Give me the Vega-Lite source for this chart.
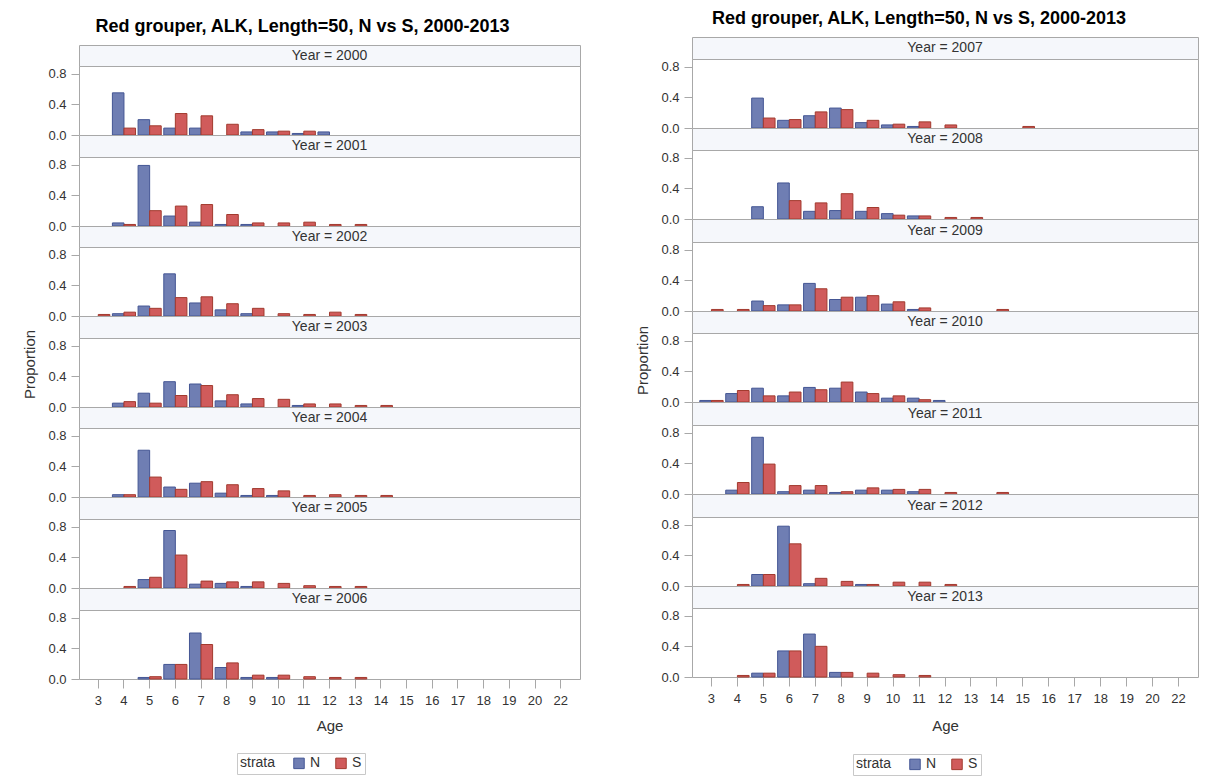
{
  "$schema": "https://vega.github.io/schema/vega-lite/v6.json",
  "background": "white",
  "padding": {"left": 22, "top": 1, "right": 0, "bottom": 0},
  "config": {
    "font": "Liberation Sans",
    "view": {"stroke": "#a8a8a8", "strokeWidth": 1},
    "axis": {"labelFont": "Liberation Sans", "labelFontSize": 13, "labelColor": "#333333", "tickColor": "#a8a8a8", "domain": false, "grid": false, "titleFont": "Liberation Sans", "titleFontSize": 15, "titleFontWeight": "normal", "titleColor": "#333333"},
    "axisY": {"tickSize": 8, "labelPadding": 5, "titlePadding": 10},
    "axisX": {"tickSize": 9, "labelPadding": 6, "titlePadding": 11, "labelAngle": 0},
    "legend": {"orient": "bottom", "direction": "horizontal", "titleOrient": "left", "strokeColor": "#c8c8c8", "padding": 3, "symbolType": "square", "symbolSize": 110, "symbolStrokeWidth": 1, "labelFontSize": 14, "titleFontSize": 14, "titleFontWeight": "normal", "titleColor": "#333333", "labelColor": "#333333", "offset": 19, "columnPadding": 12, "titlePadding": 16, "layout": {"bottom": {"anchor": "middle"}}}
  },
  "datasets": {
    "alk": [
      {"year": 2000, "age": 4, "strata": "N", "p": 0.55}, {"year": 2000, "age": 5, "strata": "N", "p": 0.20}, {"year": 2000, "age": 6, "strata": "N", "p": 0.09}, {"year": 2000, "age": 7, "strata": "N", "p": 0.09}, {"year": 2000, "age": 9, "strata": "N", "p": 0.04}, {"year": 2000, "age": 10, "strata": "N", "p": 0.04}, {"year": 2000, "age": 11, "strata": "N", "p": 0.02}, {"year": 2000, "age": 12, "strata": "N", "p": 0.04},
      {"year": 2000, "age": 4, "strata": "S", "p": 0.09}, {"year": 2000, "age": 5, "strata": "S", "p": 0.12}, {"year": 2000, "age": 6, "strata": "S", "p": 0.28}, {"year": 2000, "age": 7, "strata": "S", "p": 0.25}, {"year": 2000, "age": 8, "strata": "S", "p": 0.14}, {"year": 2000, "age": 9, "strata": "S", "p": 0.07}, {"year": 2000, "age": 10, "strata": "S", "p": 0.05}, {"year": 2000, "age": 11, "strata": "S", "p": 0.05},
      {"year": 2001, "age": 4, "strata": "N", "p": 0.04}, {"year": 2001, "age": 5, "strata": "N", "p": 0.79}, {"year": 2001, "age": 6, "strata": "N", "p": 0.13}, {"year": 2001, "age": 7, "strata": "N", "p": 0.05}, {"year": 2001, "age": 8, "strata": "N", "p": 0.02}, {"year": 2001, "age": 9, "strata": "N", "p": 0.02},
      {"year": 2001, "age": 4, "strata": "S", "p": 0.02}, {"year": 2001, "age": 5, "strata": "S", "p": 0.20}, {"year": 2001, "age": 6, "strata": "S", "p": 0.26}, {"year": 2001, "age": 7, "strata": "S", "p": 0.28}, {"year": 2001, "age": 8, "strata": "S", "p": 0.15}, {"year": 2001, "age": 9, "strata": "S", "p": 0.04}, {"year": 2001, "age": 10, "strata": "S", "p": 0.04}, {"year": 2001, "age": 11, "strata": "S", "p": 0.05}, {"year": 2001, "age": 12, "strata": "S", "p": 0.02}, {"year": 2001, "age": 13, "strata": "S", "p": 0.02},
      {"year": 2002, "age": 4, "strata": "N", "p": 0.03}, {"year": 2002, "age": 5, "strata": "N", "p": 0.13}, {"year": 2002, "age": 6, "strata": "N", "p": 0.55}, {"year": 2002, "age": 7, "strata": "N", "p": 0.17}, {"year": 2002, "age": 8, "strata": "N", "p": 0.08}, {"year": 2002, "age": 9, "strata": "N", "p": 0.03},
      {"year": 2002, "age": 3, "strata": "S", "p": 0.02}, {"year": 2002, "age": 4, "strata": "S", "p": 0.05}, {"year": 2002, "age": 5, "strata": "S", "p": 0.10}, {"year": 2002, "age": 6, "strata": "S", "p": 0.24}, {"year": 2002, "age": 7, "strata": "S", "p": 0.25}, {"year": 2002, "age": 8, "strata": "S", "p": 0.16}, {"year": 2002, "age": 9, "strata": "S", "p": 0.10}, {"year": 2002, "age": 10, "strata": "S", "p": 0.03}, {"year": 2002, "age": 11, "strata": "S", "p": 0.02}, {"year": 2002, "age": 12, "strata": "S", "p": 0.05}, {"year": 2002, "age": 13, "strata": "S", "p": 0.02},
      {"year": 2003, "age": 4, "strata": "N", "p": 0.05}, {"year": 2003, "age": 5, "strata": "N", "p": 0.18}, {"year": 2003, "age": 6, "strata": "N", "p": 0.33}, {"year": 2003, "age": 7, "strata": "N", "p": 0.30}, {"year": 2003, "age": 8, "strata": "N", "p": 0.08}, {"year": 2003, "age": 9, "strata": "N", "p": 0.04}, {"year": 2003, "age": 11, "strata": "N", "p": 0.02},
      {"year": 2003, "age": 4, "strata": "S", "p": 0.07}, {"year": 2003, "age": 5, "strata": "S", "p": 0.05}, {"year": 2003, "age": 6, "strata": "S", "p": 0.15}, {"year": 2003, "age": 7, "strata": "S", "p": 0.28}, {"year": 2003, "age": 8, "strata": "S", "p": 0.16}, {"year": 2003, "age": 9, "strata": "S", "p": 0.11}, {"year": 2003, "age": 10, "strata": "S", "p": 0.10}, {"year": 2003, "age": 11, "strata": "S", "p": 0.04}, {"year": 2003, "age": 12, "strata": "S", "p": 0.04}, {"year": 2003, "age": 13, "strata": "S", "p": 0.02}, {"year": 2003, "age": 14, "strata": "S", "p": 0.02},
      {"year": 2004, "age": 4, "strata": "N", "p": 0.03}, {"year": 2004, "age": 5, "strata": "N", "p": 0.61}, {"year": 2004, "age": 6, "strata": "N", "p": 0.13}, {"year": 2004, "age": 7, "strata": "N", "p": 0.18}, {"year": 2004, "age": 8, "strata": "N", "p": 0.05}, {"year": 2004, "age": 9, "strata": "N", "p": 0.02}, {"year": 2004, "age": 10, "strata": "N", "p": 0.02},
      {"year": 2004, "age": 4, "strata": "S", "p": 0.03}, {"year": 2004, "age": 5, "strata": "S", "p": 0.26}, {"year": 2004, "age": 6, "strata": "S", "p": 0.10}, {"year": 2004, "age": 7, "strata": "S", "p": 0.20}, {"year": 2004, "age": 8, "strata": "S", "p": 0.16}, {"year": 2004, "age": 9, "strata": "S", "p": 0.11}, {"year": 2004, "age": 10, "strata": "S", "p": 0.08}, {"year": 2004, "age": 11, "strata": "S", "p": 0.02}, {"year": 2004, "age": 12, "strata": "S", "p": 0.03}, {"year": 2004, "age": 13, "strata": "S", "p": 0.02}, {"year": 2004, "age": 14, "strata": "S", "p": 0.02},
      {"year": 2005, "age": 5, "strata": "N", "p": 0.11}, {"year": 2005, "age": 6, "strata": "N", "p": 0.75}, {"year": 2005, "age": 7, "strata": "N", "p": 0.05}, {"year": 2005, "age": 8, "strata": "N", "p": 0.06}, {"year": 2005, "age": 9, "strata": "N", "p": 0.02},
      {"year": 2005, "age": 4, "strata": "S", "p": 0.02}, {"year": 2005, "age": 5, "strata": "S", "p": 0.14}, {"year": 2005, "age": 6, "strata": "S", "p": 0.43}, {"year": 2005, "age": 7, "strata": "S", "p": 0.09}, {"year": 2005, "age": 8, "strata": "S", "p": 0.08}, {"year": 2005, "age": 9, "strata": "S", "p": 0.08}, {"year": 2005, "age": 10, "strata": "S", "p": 0.06}, {"year": 2005, "age": 11, "strata": "S", "p": 0.03}, {"year": 2005, "age": 12, "strata": "S", "p": 0.02}, {"year": 2005, "age": 13, "strata": "S", "p": 0.02},
      {"year": 2006, "age": 5, "strata": "N", "p": 0.02}, {"year": 2006, "age": 6, "strata": "N", "p": 0.19}, {"year": 2006, "age": 7, "strata": "N", "p": 0.60}, {"year": 2006, "age": 8, "strata": "N", "p": 0.15}, {"year": 2006, "age": 9, "strata": "N", "p": 0.02}, {"year": 2006, "age": 10, "strata": "N", "p": 0.02},
      {"year": 2006, "age": 5, "strata": "S", "p": 0.03}, {"year": 2006, "age": 6, "strata": "S", "p": 0.19}, {"year": 2006, "age": 7, "strata": "S", "p": 0.45}, {"year": 2006, "age": 8, "strata": "S", "p": 0.21}, {"year": 2006, "age": 9, "strata": "S", "p": 0.05}, {"year": 2006, "age": 10, "strata": "S", "p": 0.05}, {"year": 2006, "age": 11, "strata": "S", "p": 0.03}, {"year": 2006, "age": 12, "strata": "S", "p": 0.02}, {"year": 2006, "age": 13, "strata": "S", "p": 0.02},
      {"year": 2007, "age": 5, "strata": "N", "p": 0.39}, {"year": 2007, "age": 6, "strata": "N", "p": 0.10}, {"year": 2007, "age": 7, "strata": "N", "p": 0.16}, {"year": 2007, "age": 8, "strata": "N", "p": 0.26}, {"year": 2007, "age": 9, "strata": "N", "p": 0.07}, {"year": 2007, "age": 10, "strata": "N", "p": 0.04}, {"year": 2007, "age": 11, "strata": "N", "p": 0.02},
      {"year": 2007, "age": 5, "strata": "S", "p": 0.13}, {"year": 2007, "age": 6, "strata": "S", "p": 0.11}, {"year": 2007, "age": 7, "strata": "S", "p": 0.21}, {"year": 2007, "age": 8, "strata": "S", "p": 0.24}, {"year": 2007, "age": 9, "strata": "S", "p": 0.10}, {"year": 2007, "age": 10, "strata": "S", "p": 0.05}, {"year": 2007, "age": 11, "strata": "S", "p": 0.08}, {"year": 2007, "age": 12, "strata": "S", "p": 0.04}, {"year": 2007, "age": 15, "strata": "S", "p": 0.02},
      {"year": 2008, "age": 5, "strata": "N", "p": 0.16}, {"year": 2008, "age": 6, "strata": "N", "p": 0.47}, {"year": 2008, "age": 7, "strata": "N", "p": 0.10}, {"year": 2008, "age": 8, "strata": "N", "p": 0.11}, {"year": 2008, "age": 9, "strata": "N", "p": 0.10}, {"year": 2008, "age": 10, "strata": "N", "p": 0.07}, {"year": 2008, "age": 11, "strata": "N", "p": 0.04},
      {"year": 2008, "age": 6, "strata": "S", "p": 0.24}, {"year": 2008, "age": 7, "strata": "S", "p": 0.21}, {"year": 2008, "age": 8, "strata": "S", "p": 0.33}, {"year": 2008, "age": 9, "strata": "S", "p": 0.15}, {"year": 2008, "age": 10, "strata": "S", "p": 0.05}, {"year": 2008, "age": 11, "strata": "S", "p": 0.04}, {"year": 2008, "age": 12, "strata": "S", "p": 0.02}, {"year": 2008, "age": 13, "strata": "S", "p": 0.02},
      {"year": 2009, "age": 5, "strata": "N", "p": 0.13}, {"year": 2009, "age": 6, "strata": "N", "p": 0.08}, {"year": 2009, "age": 7, "strata": "N", "p": 0.36}, {"year": 2009, "age": 8, "strata": "N", "p": 0.15}, {"year": 2009, "age": 9, "strata": "N", "p": 0.18}, {"year": 2009, "age": 10, "strata": "N", "p": 0.09}, {"year": 2009, "age": 11, "strata": "N", "p": 0.02},
      {"year": 2009, "age": 3, "strata": "S", "p": 0.02}, {"year": 2009, "age": 4, "strata": "S", "p": 0.02}, {"year": 2009, "age": 5, "strata": "S", "p": 0.07}, {"year": 2009, "age": 6, "strata": "S", "p": 0.08}, {"year": 2009, "age": 7, "strata": "S", "p": 0.29}, {"year": 2009, "age": 8, "strata": "S", "p": 0.18}, {"year": 2009, "age": 9, "strata": "S", "p": 0.20}, {"year": 2009, "age": 10, "strata": "S", "p": 0.12}, {"year": 2009, "age": 11, "strata": "S", "p": 0.04}, {"year": 2009, "age": 14, "strata": "S", "p": 0.02},
      {"year": 2010, "age": 3, "strata": "N", "p": 0.02}, {"year": 2010, "age": 4, "strata": "N", "p": 0.11}, {"year": 2010, "age": 5, "strata": "N", "p": 0.18}, {"year": 2010, "age": 6, "strata": "N", "p": 0.08}, {"year": 2010, "age": 7, "strata": "N", "p": 0.19}, {"year": 2010, "age": 8, "strata": "N", "p": 0.18}, {"year": 2010, "age": 9, "strata": "N", "p": 0.13}, {"year": 2010, "age": 10, "strata": "N", "p": 0.05}, {"year": 2010, "age": 11, "strata": "N", "p": 0.05}, {"year": 2010, "age": 12, "strata": "N", "p": 0.02},
      {"year": 2010, "age": 3, "strata": "S", "p": 0.02}, {"year": 2010, "age": 4, "strata": "S", "p": 0.15}, {"year": 2010, "age": 5, "strata": "S", "p": 0.08}, {"year": 2010, "age": 6, "strata": "S", "p": 0.13}, {"year": 2010, "age": 7, "strata": "S", "p": 0.16}, {"year": 2010, "age": 8, "strata": "S", "p": 0.26}, {"year": 2010, "age": 9, "strata": "S", "p": 0.11}, {"year": 2010, "age": 10, "strata": "S", "p": 0.08}, {"year": 2010, "age": 11, "strata": "S", "p": 0.03},
      {"year": 2011, "age": 4, "strata": "N", "p": 0.05}, {"year": 2011, "age": 5, "strata": "N", "p": 0.74}, {"year": 2011, "age": 6, "strata": "N", "p": 0.03}, {"year": 2011, "age": 7, "strata": "N", "p": 0.05}, {"year": 2011, "age": 8, "strata": "N", "p": 0.02}, {"year": 2011, "age": 9, "strata": "N", "p": 0.05}, {"year": 2011, "age": 10, "strata": "N", "p": 0.05}, {"year": 2011, "age": 11, "strata": "N", "p": 0.03},
      {"year": 2011, "age": 4, "strata": "S", "p": 0.15}, {"year": 2011, "age": 5, "strata": "S", "p": 0.39}, {"year": 2011, "age": 6, "strata": "S", "p": 0.11}, {"year": 2011, "age": 7, "strata": "S", "p": 0.11}, {"year": 2011, "age": 8, "strata": "S", "p": 0.03}, {"year": 2011, "age": 9, "strata": "S", "p": 0.08}, {"year": 2011, "age": 10, "strata": "S", "p": 0.06}, {"year": 2011, "age": 11, "strata": "S", "p": 0.06}, {"year": 2011, "age": 12, "strata": "S", "p": 0.02}, {"year": 2011, "age": 14, "strata": "S", "p": 0.02},
      {"year": 2012, "age": 5, "strata": "N", "p": 0.15}, {"year": 2012, "age": 6, "strata": "N", "p": 0.78}, {"year": 2012, "age": 7, "strata": "N", "p": 0.03}, {"year": 2012, "age": 9, "strata": "N", "p": 0.02},
      {"year": 2012, "age": 4, "strata": "S", "p": 0.02}, {"year": 2012, "age": 5, "strata": "S", "p": 0.15}, {"year": 2012, "age": 6, "strata": "S", "p": 0.55}, {"year": 2012, "age": 7, "strata": "S", "p": 0.10}, {"year": 2012, "age": 8, "strata": "S", "p": 0.06}, {"year": 2012, "age": 9, "strata": "S", "p": 0.02}, {"year": 2012, "age": 10, "strata": "S", "p": 0.05}, {"year": 2012, "age": 11, "strata": "S", "p": 0.05}, {"year": 2012, "age": 12, "strata": "S", "p": 0.02},
      {"year": 2013, "age": 5, "strata": "N", "p": 0.05}, {"year": 2013, "age": 6, "strata": "N", "p": 0.34}, {"year": 2013, "age": 7, "strata": "N", "p": 0.56}, {"year": 2013, "age": 8, "strata": "N", "p": 0.06},
      {"year": 2013, "age": 4, "strata": "S", "p": 0.02}, {"year": 2013, "age": 5, "strata": "S", "p": 0.05}, {"year": 2013, "age": 6, "strata": "S", "p": 0.34}, {"year": 2013, "age": 7, "strata": "S", "p": 0.40}, {"year": 2013, "age": 8, "strata": "S", "p": 0.06}, {"year": 2013, "age": 9, "strata": "S", "p": 0.05}, {"year": 2013, "age": 10, "strata": "S", "p": 0.03}, {"year": 2013, "age": 11, "strata": "S", "p": 0.02}
    ]
  },
  "spacing": 54,
  "resolve": {
    "scale": {"x": "independent", "y": "independent", "xOffset": "independent", "fill": "independent", "stroke": "independent"},
    "legend": {"fill": "independent", "stroke": "independent"}
  },
  "hconcat": [
    {
      "spacing": 0,
      "bounds": "flush",
      "vconcat": [
        {"width": 501, "height": 44, "view": {"stroke": null}, "data": {"values": [{"t": "Red grouper, ALK,  Length=50, N vs S, 2000-2013"}]}, "mark": {"type": "text", "fontSize": 18, "fontWeight": "bold", "color": "#000000", "dx": -27, "dy": 4}, "encoding": {"text": {"field": "t"}}},
        {"width": 501, "height": 21, "view": {"fill": "#f5f7fb", "stroke": "#a8a8a8"}, "data": {"values": [{"label": "Year = 2000"}]}, "mark": {"type": "text", "fontSize": 14, "color": "#333333"}, "encoding": {"text": {"field": "label"}}},
        {"width": 501, "height": 69, "data": {"name": "alk"}, "transform": [{"filter": "datum.year == 2000"}], "mark": {"type": "bar", "strokeWidth": 1}, "encoding": {"x": {"field": "age", "type": "ordinal", "scale": {"domain": [3,4,5,6,7,8,9,10,11,12,13,14,15,16,17,18,19,20,22], "paddingInner": 0.1, "paddingOuter": 0.3}, "axis": null}, "xOffset": {"field": "strata", "type": "nominal", "scale": {"domain": ["N","S"], "paddingInner": 0, "paddingOuter": 0}}, "y": {"field": "p", "type": "quantitative", "scale": {"domain": [0, 0.9]}, "axis": {"values": [0, 0.4, 0.8], "format": ".1f", "title": null}}, "fill": {"field": "strata", "type": "nominal", "scale": {"domain": ["N","S"], "range": ["#6f7eb3","#d05b5b"]}, "title": "strata"}, "stroke": {"field": "strata", "type": "nominal", "scale": {"domain": ["N","S"], "range": ["#445694","#a23a2e"]}, "title": "strata"}}},
        {"width": 501, "height": 22, "view": {"fill": "#f5f7fb", "stroke": "#a8a8a8"}, "data": {"values": [{"label": "Year = 2001"}]}, "mark": {"type": "text", "fontSize": 14, "color": "#333333"}, "encoding": {"text": {"field": "label"}}},
        {"width": 501, "height": 69, "data": {"name": "alk"}, "transform": [{"filter": "datum.year == 2001"}], "mark": {"type": "bar", "strokeWidth": 1}, "encoding": {"x": {"field": "age", "type": "ordinal", "scale": {"domain": [3,4,5,6,7,8,9,10,11,12,13,14,15,16,17,18,19,20,22], "paddingInner": 0.1, "paddingOuter": 0.3}, "axis": null}, "xOffset": {"field": "strata", "type": "nominal", "scale": {"domain": ["N","S"], "paddingInner": 0, "paddingOuter": 0}}, "y": {"field": "p", "type": "quantitative", "scale": {"domain": [0, 0.9]}, "axis": {"values": [0, 0.4, 0.8], "format": ".1f", "title": null}}, "fill": {"field": "strata", "type": "nominal", "scale": {"domain": ["N","S"], "range": ["#6f7eb3","#d05b5b"]}, "title": "strata"}, "stroke": {"field": "strata", "type": "nominal", "scale": {"domain": ["N","S"], "range": ["#445694","#a23a2e"]}, "title": "strata"}}},
        {"width": 501, "height": 21, "view": {"fill": "#f5f7fb", "stroke": "#a8a8a8"}, "data": {"values": [{"label": "Year = 2002"}]}, "mark": {"type": "text", "fontSize": 14, "color": "#333333"}, "encoding": {"text": {"field": "label"}}},
        {"width": 501, "height": 69, "data": {"name": "alk"}, "transform": [{"filter": "datum.year == 2002"}], "mark": {"type": "bar", "strokeWidth": 1}, "encoding": {"x": {"field": "age", "type": "ordinal", "scale": {"domain": [3,4,5,6,7,8,9,10,11,12,13,14,15,16,17,18,19,20,22], "paddingInner": 0.1, "paddingOuter": 0.3}, "axis": null}, "xOffset": {"field": "strata", "type": "nominal", "scale": {"domain": ["N","S"], "paddingInner": 0, "paddingOuter": 0}}, "y": {"field": "p", "type": "quantitative", "scale": {"domain": [0, 0.9]}, "axis": {"values": [0, 0.4, 0.8], "format": ".1f", "title": null}}, "fill": {"field": "strata", "type": "nominal", "scale": {"domain": ["N","S"], "range": ["#6f7eb3","#d05b5b"]}, "title": "strata"}, "stroke": {"field": "strata", "type": "nominal", "scale": {"domain": ["N","S"], "range": ["#445694","#a23a2e"]}, "title": "strata"}}},
        {"width": 501, "height": 22, "view": {"fill": "#f5f7fb", "stroke": "#a8a8a8"}, "data": {"values": [{"label": "Year = 2003"}]}, "mark": {"type": "text", "fontSize": 14, "color": "#333333"}, "encoding": {"text": {"field": "label"}}},
        {"width": 501, "height": 69, "data": {"name": "alk"}, "transform": [{"filter": "datum.year == 2003"}], "mark": {"type": "bar", "strokeWidth": 1}, "encoding": {"x": {"field": "age", "type": "ordinal", "scale": {"domain": [3,4,5,6,7,8,9,10,11,12,13,14,15,16,17,18,19,20,22], "paddingInner": 0.1, "paddingOuter": 0.3}, "axis": null}, "xOffset": {"field": "strata", "type": "nominal", "scale": {"domain": ["N","S"], "paddingInner": 0, "paddingOuter": 0}}, "y": {"field": "p", "type": "quantitative", "scale": {"domain": [0, 0.9]}, "axis": {"values": [0, 0.4, 0.8], "format": ".1f", "title": "Proportion", "titleY": 26}}, "fill": {"field": "strata", "type": "nominal", "scale": {"domain": ["N","S"], "range": ["#6f7eb3","#d05b5b"]}, "title": "strata"}, "stroke": {"field": "strata", "type": "nominal", "scale": {"domain": ["N","S"], "range": ["#445694","#a23a2e"]}, "title": "strata"}}},
        {"width": 501, "height": 21, "view": {"fill": "#f5f7fb", "stroke": "#a8a8a8"}, "data": {"values": [{"label": "Year = 2004"}]}, "mark": {"type": "text", "fontSize": 14, "color": "#333333"}, "encoding": {"text": {"field": "label"}}},
        {"width": 501, "height": 69, "data": {"name": "alk"}, "transform": [{"filter": "datum.year == 2004"}], "mark": {"type": "bar", "strokeWidth": 1}, "encoding": {"x": {"field": "age", "type": "ordinal", "scale": {"domain": [3,4,5,6,7,8,9,10,11,12,13,14,15,16,17,18,19,20,22], "paddingInner": 0.1, "paddingOuter": 0.3}, "axis": null}, "xOffset": {"field": "strata", "type": "nominal", "scale": {"domain": ["N","S"], "paddingInner": 0, "paddingOuter": 0}}, "y": {"field": "p", "type": "quantitative", "scale": {"domain": [0, 0.9]}, "axis": {"values": [0, 0.4, 0.8], "format": ".1f", "title": null}}, "fill": {"field": "strata", "type": "nominal", "scale": {"domain": ["N","S"], "range": ["#6f7eb3","#d05b5b"]}, "title": "strata"}, "stroke": {"field": "strata", "type": "nominal", "scale": {"domain": ["N","S"], "range": ["#445694","#a23a2e"]}, "title": "strata"}}},
        {"width": 501, "height": 22, "view": {"fill": "#f5f7fb", "stroke": "#a8a8a8"}, "data": {"values": [{"label": "Year = 2005"}]}, "mark": {"type": "text", "fontSize": 14, "color": "#333333"}, "encoding": {"text": {"field": "label"}}},
        {"width": 501, "height": 69, "data": {"name": "alk"}, "transform": [{"filter": "datum.year == 2005"}], "mark": {"type": "bar", "strokeWidth": 1}, "encoding": {"x": {"field": "age", "type": "ordinal", "scale": {"domain": [3,4,5,6,7,8,9,10,11,12,13,14,15,16,17,18,19,20,22], "paddingInner": 0.1, "paddingOuter": 0.3}, "axis": null}, "xOffset": {"field": "strata", "type": "nominal", "scale": {"domain": ["N","S"], "paddingInner": 0, "paddingOuter": 0}}, "y": {"field": "p", "type": "quantitative", "scale": {"domain": [0, 0.9]}, "axis": {"values": [0, 0.4, 0.8], "format": ".1f", "title": null}}, "fill": {"field": "strata", "type": "nominal", "scale": {"domain": ["N","S"], "range": ["#6f7eb3","#d05b5b"]}, "title": "strata"}, "stroke": {"field": "strata", "type": "nominal", "scale": {"domain": ["N","S"], "range": ["#445694","#a23a2e"]}, "title": "strata"}}},
        {"width": 501, "height": 22, "view": {"fill": "#f5f7fb", "stroke": "#a8a8a8"}, "data": {"values": [{"label": "Year = 2006"}]}, "mark": {"type": "text", "fontSize": 14, "color": "#333333"}, "encoding": {"text": {"field": "label"}}},
        {"width": 501, "height": 69, "data": {"name": "alk"}, "transform": [{"filter": "datum.year == 2006"}], "mark": {"type": "bar", "strokeWidth": 1}, "encoding": {"x": {"field": "age", "type": "ordinal", "scale": {"domain": [3,4,5,6,7,8,9,10,11,12,13,14,15,16,17,18,19,20,22], "paddingInner": 0.1, "paddingOuter": 0.3}, "axis": {"title": "Age"}}, "xOffset": {"field": "strata", "type": "nominal", "scale": {"domain": ["N","S"], "paddingInner": 0, "paddingOuter": 0}}, "y": {"field": "p", "type": "quantitative", "scale": {"domain": [0, 0.9]}, "axis": {"values": [0, 0.4, 0.8], "format": ".1f", "title": null}}, "fill": {"field": "strata", "type": "nominal", "scale": {"domain": ["N","S"], "range": ["#6f7eb3","#d05b5b"]}, "title": "strata", "legend": {"offset": 19}}, "stroke": {"field": "strata", "type": "nominal", "scale": {"domain": ["N","S"], "range": ["#445694","#a23a2e"]}, "title": "strata", "legend": {"offset": 19}}}}
      ]
    },
    {
      "spacing": 0,
      "bounds": "flush",
      "vconcat": [
        {"width": 506, "height": 36, "view": {"stroke": null}, "data": {"values": [{"t": "Red grouper, ALK,  Length=50, N vs S, 2000-2013"}]}, "mark": {"type": "text", "fontSize": 18, "fontWeight": "bold", "color": "#000000", "dx": -26, "dy": 0}, "encoding": {"text": {"field": "t"}}},
        {"width": 506, "height": 22, "view": {"fill": "#f5f7fb", "stroke": "#a8a8a8"}, "data": {"values": [{"label": "Year = 2007"}]}, "mark": {"type": "text", "fontSize": 14, "color": "#333333"}, "encoding": {"text": {"field": "label"}}},
        {"width": 506, "height": 69, "data": {"name": "alk"}, "transform": [{"filter": "datum.year == 2007"}], "mark": {"type": "bar", "strokeWidth": 1}, "encoding": {"x": {"field": "age", "type": "ordinal", "scale": {"domain": [3,4,5,6,7,8,9,10,11,12,13,14,15,16,17,18,19,20,22], "paddingInner": 0.1, "paddingOuter": 0.3}, "axis": null}, "xOffset": {"field": "strata", "type": "nominal", "scale": {"domain": ["N","S"], "paddingInner": 0, "paddingOuter": 0}}, "y": {"field": "p", "type": "quantitative", "scale": {"domain": [0, 0.9]}, "axis": {"values": [0, 0.4, 0.8], "format": ".1f", "title": null}}, "fill": {"field": "strata", "type": "nominal", "scale": {"domain": ["N","S"], "range": ["#6f7eb3","#d05b5b"]}, "title": "strata"}, "stroke": {"field": "strata", "type": "nominal", "scale": {"domain": ["N","S"], "range": ["#445694","#a23a2e"]}, "title": "strata"}}},
        {"width": 506, "height": 22, "view": {"fill": "#f5f7fb", "stroke": "#a8a8a8"}, "data": {"values": [{"label": "Year = 2008"}]}, "mark": {"type": "text", "fontSize": 14, "color": "#333333"}, "encoding": {"text": {"field": "label"}}},
        {"width": 506, "height": 69, "data": {"name": "alk"}, "transform": [{"filter": "datum.year == 2008"}], "mark": {"type": "bar", "strokeWidth": 1}, "encoding": {"x": {"field": "age", "type": "ordinal", "scale": {"domain": [3,4,5,6,7,8,9,10,11,12,13,14,15,16,17,18,19,20,22], "paddingInner": 0.1, "paddingOuter": 0.3}, "axis": null}, "xOffset": {"field": "strata", "type": "nominal", "scale": {"domain": ["N","S"], "paddingInner": 0, "paddingOuter": 0}}, "y": {"field": "p", "type": "quantitative", "scale": {"domain": [0, 0.9]}, "axis": {"values": [0, 0.4, 0.8], "format": ".1f", "title": null}}, "fill": {"field": "strata", "type": "nominal", "scale": {"domain": ["N","S"], "range": ["#6f7eb3","#d05b5b"]}, "title": "strata"}, "stroke": {"field": "strata", "type": "nominal", "scale": {"domain": ["N","S"], "range": ["#445694","#a23a2e"]}, "title": "strata"}}},
        {"width": 506, "height": 23, "view": {"fill": "#f5f7fb", "stroke": "#a8a8a8"}, "data": {"values": [{"label": "Year = 2009"}]}, "mark": {"type": "text", "fontSize": 14, "color": "#333333"}, "encoding": {"text": {"field": "label"}}},
        {"width": 506, "height": 69, "data": {"name": "alk"}, "transform": [{"filter": "datum.year == 2009"}], "mark": {"type": "bar", "strokeWidth": 1}, "encoding": {"x": {"field": "age", "type": "ordinal", "scale": {"domain": [3,4,5,6,7,8,9,10,11,12,13,14,15,16,17,18,19,20,22], "paddingInner": 0.1, "paddingOuter": 0.3}, "axis": null}, "xOffset": {"field": "strata", "type": "nominal", "scale": {"domain": ["N","S"], "paddingInner": 0, "paddingOuter": 0}}, "y": {"field": "p", "type": "quantitative", "scale": {"domain": [0, 0.9]}, "axis": {"values": [0, 0.4, 0.8], "format": ".1f", "title": null}}, "fill": {"field": "strata", "type": "nominal", "scale": {"domain": ["N","S"], "range": ["#6f7eb3","#d05b5b"]}, "title": "strata"}, "stroke": {"field": "strata", "type": "nominal", "scale": {"domain": ["N","S"], "range": ["#445694","#a23a2e"]}, "title": "strata"}}},
        {"width": 506, "height": 22, "view": {"fill": "#f5f7fb", "stroke": "#a8a8a8"}, "data": {"values": [{"label": "Year = 2010"}]}, "mark": {"type": "text", "fontSize": 14, "color": "#333333"}, "encoding": {"text": {"field": "label"}}},
        {"width": 506, "height": 69, "data": {"name": "alk"}, "transform": [{"filter": "datum.year == 2010"}], "mark": {"type": "bar", "strokeWidth": 1}, "encoding": {"x": {"field": "age", "type": "ordinal", "scale": {"domain": [3,4,5,6,7,8,9,10,11,12,13,14,15,16,17,18,19,20,22], "paddingInner": 0.1, "paddingOuter": 0.3}, "axis": null}, "xOffset": {"field": "strata", "type": "nominal", "scale": {"domain": ["N","S"], "paddingInner": 0, "paddingOuter": 0}}, "y": {"field": "p", "type": "quantitative", "scale": {"domain": [0, 0.9]}, "axis": {"values": [0, 0.4, 0.8], "format": ".1f", "title": "Proportion", "titleY": 27}}, "fill": {"field": "strata", "type": "nominal", "scale": {"domain": ["N","S"], "range": ["#6f7eb3","#d05b5b"]}, "title": "strata"}, "stroke": {"field": "strata", "type": "nominal", "scale": {"domain": ["N","S"], "range": ["#445694","#a23a2e"]}, "title": "strata"}}},
        {"width": 506, "height": 23, "view": {"fill": "#f5f7fb", "stroke": "#a8a8a8"}, "data": {"values": [{"label": "Year = 2011"}]}, "mark": {"type": "text", "fontSize": 14, "color": "#333333"}, "encoding": {"text": {"field": "label"}}},
        {"width": 506, "height": 69, "data": {"name": "alk"}, "transform": [{"filter": "datum.year == 2011"}], "mark": {"type": "bar", "strokeWidth": 1}, "encoding": {"x": {"field": "age", "type": "ordinal", "scale": {"domain": [3,4,5,6,7,8,9,10,11,12,13,14,15,16,17,18,19,20,22], "paddingInner": 0.1, "paddingOuter": 0.3}, "axis": null}, "xOffset": {"field": "strata", "type": "nominal", "scale": {"domain": ["N","S"], "paddingInner": 0, "paddingOuter": 0}}, "y": {"field": "p", "type": "quantitative", "scale": {"domain": [0, 0.9]}, "axis": {"values": [0, 0.4, 0.8], "format": ".1f", "title": null}}, "fill": {"field": "strata", "type": "nominal", "scale": {"domain": ["N","S"], "range": ["#6f7eb3","#d05b5b"]}, "title": "strata"}, "stroke": {"field": "strata", "type": "nominal", "scale": {"domain": ["N","S"], "range": ["#445694","#a23a2e"]}, "title": "strata"}}},
        {"width": 506, "height": 23, "view": {"fill": "#f5f7fb", "stroke": "#a8a8a8"}, "data": {"values": [{"label": "Year = 2012"}]}, "mark": {"type": "text", "fontSize": 14, "color": "#333333"}, "encoding": {"text": {"field": "label"}}},
        {"width": 506, "height": 69, "data": {"name": "alk"}, "transform": [{"filter": "datum.year == 2012"}], "mark": {"type": "bar", "strokeWidth": 1}, "encoding": {"x": {"field": "age", "type": "ordinal", "scale": {"domain": [3,4,5,6,7,8,9,10,11,12,13,14,15,16,17,18,19,20,22], "paddingInner": 0.1, "paddingOuter": 0.3}, "axis": null}, "xOffset": {"field": "strata", "type": "nominal", "scale": {"domain": ["N","S"], "paddingInner": 0, "paddingOuter": 0}}, "y": {"field": "p", "type": "quantitative", "scale": {"domain": [0, 0.9]}, "axis": {"values": [0, 0.4, 0.8], "format": ".1f", "title": null}}, "fill": {"field": "strata", "type": "nominal", "scale": {"domain": ["N","S"], "range": ["#6f7eb3","#d05b5b"]}, "title": "strata"}, "stroke": {"field": "strata", "type": "nominal", "scale": {"domain": ["N","S"], "range": ["#445694","#a23a2e"]}, "title": "strata"}}},
        {"width": 506, "height": 22, "view": {"fill": "#f5f7fb", "stroke": "#a8a8a8"}, "data": {"values": [{"label": "Year = 2013"}]}, "mark": {"type": "text", "fontSize": 14, "color": "#333333"}, "encoding": {"text": {"field": "label"}}},
        {"width": 506, "height": 69, "data": {"name": "alk"}, "transform": [{"filter": "datum.year == 2013"}], "mark": {"type": "bar", "strokeWidth": 1}, "encoding": {"x": {"field": "age", "type": "ordinal", "scale": {"domain": [3,4,5,6,7,8,9,10,11,12,13,14,15,16,17,18,19,20,22], "paddingInner": 0.1, "paddingOuter": 0.3}, "axis": {"title": "Age", "titlePadding": 13}}, "xOffset": {"field": "strata", "type": "nominal", "scale": {"domain": ["N","S"], "paddingInner": 0, "paddingOuter": 0}}, "y": {"field": "p", "type": "quantitative", "scale": {"domain": [0, 0.9]}, "axis": {"values": [0, 0.4, 0.8], "format": ".1f", "title": null}}, "fill": {"field": "strata", "type": "nominal", "scale": {"domain": ["N","S"], "range": ["#6f7eb3","#d05b5b"]}, "title": "strata", "legend": {"offset": 20}}, "stroke": {"field": "strata", "type": "nominal", "scale": {"domain": ["N","S"], "range": ["#445694","#a23a2e"]}, "title": "strata", "legend": {"offset": 20}}}}
      ]
    }
  ]
}
